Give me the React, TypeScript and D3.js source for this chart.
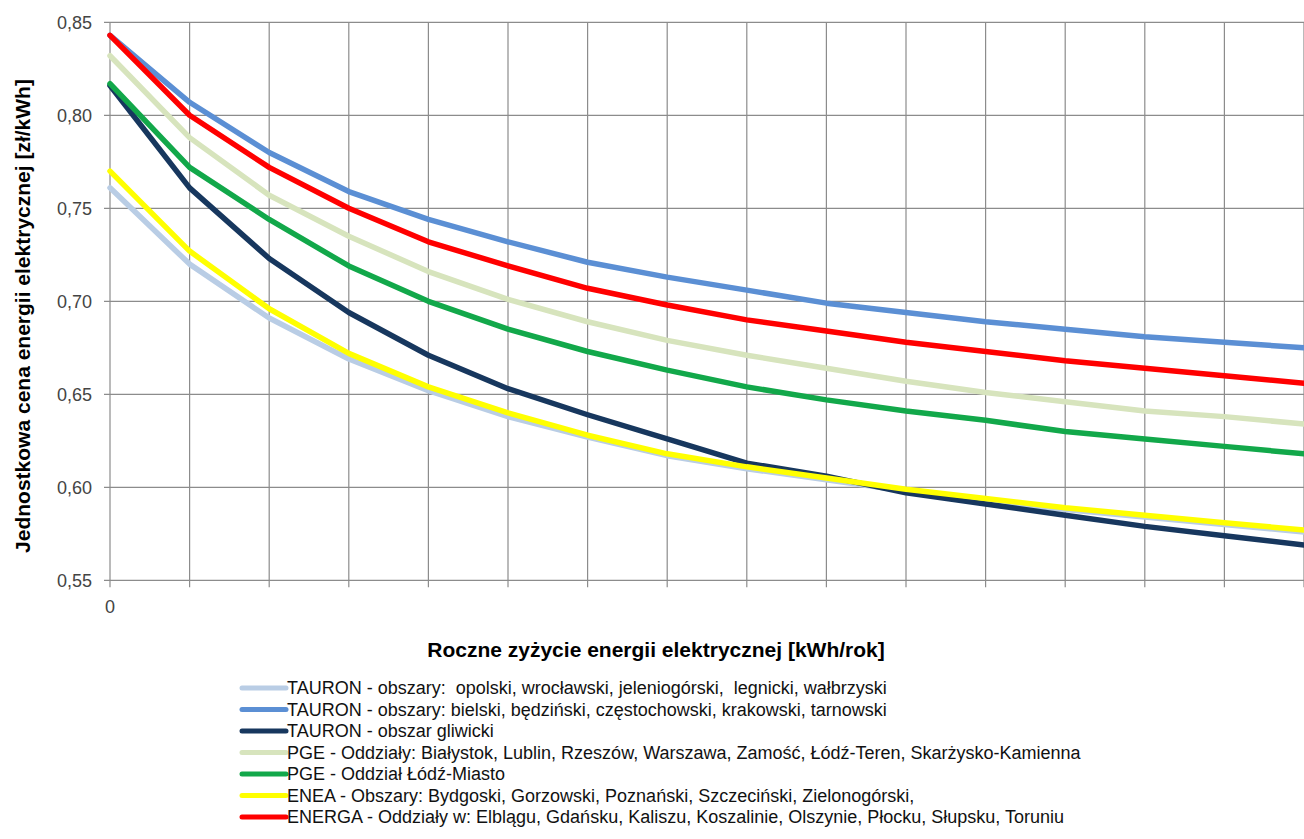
import React from "react";
import * as d3 from "d3";

const xSteps = d3.range(0, 16);
const yTicks = [0.55, 0.6, 0.65, 0.7, 0.75, 0.8, 0.85];
const yTickLabels = ["0,55", "0,60", "0,65", "0,70", "0,75", "0,80", "0,85"];
const xTickLabels = ["0"];

const seriesNames = [
  "TAURON - obszary:  opolski, wrocławski, jeleniogórski,  legnicki, wałbrzyski",
  "TAURON - obszary: bielski, będziński, częstochowski, krakowski, tarnowski",
  "TAURON - obszar gliwicki",
  "PGE - Oddziały: Białystok, Lublin, Rzeszów, Warszawa, Zamość, Łódź-Teren, Skarżysko-Kamienna",
  "PGE - Oddział Łódź-Miasto",
  "ENEA - Obszary: Bydgoski, Gorzowski, Poznański, Szczeciński, Zielonogórski,",
  "ENERGA - Oddziały w: Elblągu, Gdańsku, Kaliszu, Koszalinie, Olszynie, Płocku, Słupsku, Toruniu",
];
const seriesColors = ["#b9cde5", "#5b8fd4", "#17375e", "#d7e4bd", "#12a84a", "#ffff00", "#ff0000"];

const tauronOpolski = [0.761, 0.72, 0.691, 0.669, 0.652, 0.638, 0.627, 0.617, 0.61, 0.604, 0.598, 0.593, 0.588, 0.584, 0.58, 0.576];
const tauronBielski = [0.843, 0.807, 0.78, 0.759, 0.744, 0.732, 0.721, 0.713, 0.706, 0.699, 0.694, 0.689, 0.685, 0.681, 0.678, 0.675];
const tauronGliwicki = [0.816, 0.761, 0.723, 0.694, 0.671, 0.653, 0.639, 0.626, 0.613, 0.606, 0.597, 0.591, 0.585, 0.579, 0.574, 0.569];
const pgeOddzialy = [0.832, 0.788, 0.757, 0.735, 0.716, 0.701, 0.689, 0.679, 0.671, 0.664, 0.657, 0.651, 0.646, 0.641, 0.638, 0.634];
const pgeLodz = [0.817, 0.772, 0.744, 0.719, 0.7, 0.685, 0.673, 0.663, 0.654, 0.647, 0.641, 0.636, 0.63, 0.626, 0.622, 0.618];
const enea = [0.77, 0.727, 0.696, 0.672, 0.654, 0.64, 0.628, 0.618, 0.611, 0.605, 0.599, 0.594, 0.589, 0.585, 0.581, 0.577];
const energa = [0.843, 0.8, 0.772, 0.75, 0.732, 0.719, 0.707, 0.698, 0.69, 0.684, 0.678, 0.673, 0.668, 0.664, 0.66, 0.656];

const seriesValues = [tauronOpolski, tauronBielski, tauronGliwicki, pgeOddzialy, pgeLodz, enea, energa];

const W = 1304;
const H = 839;
const left = 110;
const right = 1304;
const top = 22.3;
const bottom = 580.3;

export default function App() {
  const x = d3.scaleLinear().domain([0, 15]).range([left, right]);
  const y = d3.scaleLinear().domain([0.55, 0.85]).range([bottom, top]);
  const line = d3
    .line<number>()
    .x((_, i) => x(xSteps[i]))
    .y((d) => y(d));

  const grid = "#8c8c8c";
  const font = "'Liberation Sans', Arial, sans-serif";

  return (
    <svg
      width={W}
      height={H}
      style={{ position: "absolute", left: 0, top: 0, display: "block", background: "#fff" }}
      fontFamily={font}
    >
      <rect x={0} y={0} width={W} height={H} fill="#fff" />
      {yTicks.map((t) => (
        <line key={"h" + t} x1={left - 6} x2={right} y1={y(t)} y2={y(t)} stroke={grid} strokeWidth={1.2} />
      ))}
      {xSteps.map((s) => (
        <line key={"v" + s} x1={x(s)} x2={x(s)} y1={top} y2={bottom + 7} stroke={grid} strokeWidth={1.2} />
      ))}
      {yTicks.map((t, i) => (
        <text key={"yl" + t} x={92} y={y(t)} dy="0.35em" textAnchor="end" fontSize={18} fill="#444">
          {yTickLabels[i]}
        </text>
      ))}
      {xTickLabels.map((l, i) => (
        <text key={"xl" + i} x={x(i)} y={613} textAnchor="middle" fontSize={18} fill="#444">
          {l}
        </text>
      ))}
      {seriesValues.map((vals, i) => (
        <path
          key={"s" + i}
          d={line(vals) || ""}
          fill="none"
          stroke={seriesColors[i]}
          strokeWidth={5.5}
          strokeLinejoin="round"
          strokeLinecap="round"
        />
      ))}
      <text x={656} y={657} textAnchor="middle" fontSize={21} fontWeight="bold" fill="#000">
        Roczne zyżycie energii elektrycznej [kWh/rok]
      </text>
      <text
        transform={`translate(30, 316) rotate(-90)`}
        textAnchor="middle"
        fontSize={21}
        fontWeight="bold"
        fill="#000"
      >
        Jednostkowa cena energii elektrycznej [zł/kWh]
      </text>
      {seriesNames.map((name, i) => {
        const cy = 688 + i * 21.5;
        return (
          <g key={"lg" + i}>
            <line x1={242} x2={286} y1={cy} y2={cy} stroke={seriesColors[i]} strokeWidth={5} strokeLinecap="round" />
            <text x={287} y={cy} dy="0.35em" fontSize={18} fill="#111" style={{ whiteSpace: "pre" }}>
              {name}
            </text>
          </g>
        );
      })}
    </svg>
  );
}
